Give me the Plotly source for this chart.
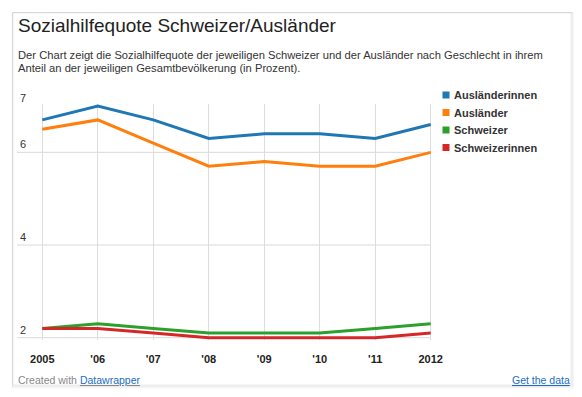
import plotly.graph_objects as go

# ---------------- data ----------------
years = [2005, 2006, 2007, 2008, 2009, 2010, 2011, 2012]
year_labels = ["2005", "'06", "'07", "'08", "'09", "'10", "'11", "2012"]

auslaenderinnen = [6.7, 7.0, 6.7, 6.3, 6.4, 6.4, 6.3, 6.6]
auslaender = [6.5, 6.7, 6.2, 5.7, 5.8, 5.7, 5.7, 6.0]
schweizer = [2.2, 2.3, 2.2, 2.1, 2.1, 2.1, 2.2, 2.3]
schweizerinnen = [2.2, 2.2, 2.1, 2.0, 2.0, 2.0, 2.0, 2.1]

series_names = ["Ausländerinnen", "Ausländer", "Schweizer", "Schweizerinnen"]
series_values = [auslaenderinnen, auslaender, schweizer, schweizerinnen]
series_colors = ["#1f77b4", "#ff7f0e", "#2ca02c", "#d62728"]

y_ticks = [2, 4, 6, 7]
grid_values = [2, 4, 6]

title_text = "Sozialhilfequote Schweizer/Ausländer"
subtitle_lines = [
    "Der Chart zeigt die Sozialhilfequote der jeweiligen Schweizer und der Ausländer nach Geschlecht in ihrem",
    "Anteil an der jeweiligen Gesamtbevölkerung (in Prozent).",
]

# ---------------- layout geometry ----------------
# The page body has an 8px margin, so the figure is drawn 8px smaller and
# all positions below are given in page pixels and shifted by OFF.
OFF = 8
W, H = 582 - 2 * OFF, 397 - 2 * OFF
PLOT_L, PLOT_R, PLOT_T, PLOT_B = 17, 432, 104, 340   # page pixels
ML, MR = PLOT_L - OFF, W - (PLOT_R - OFF)
MT, MB = PLOT_T - OFF, H - (PLOT_B - OFF)
PW, PH = W - ML - MR, H - MT - MB
FONT = "Liberation Sans, Arial, Helvetica, sans-serif"


def xp(px):
    return (px - PLOT_L) / PW


def yp(py):
    return (PLOT_B - py) / PH


fig = go.Figure()
for name, vals, col in zip(series_names, series_values, series_colors):
    fig.add_trace(go.Scatter(
        x=years, y=vals, name=name, mode="lines",
        line=dict(color=col, width=3),
        showlegend=False, hoverinfo="x+y+name",
    ))

shapes = []
# card with soft shadow
for off, alpha in [(3.0, 0.035), (2.0, 0.05), (1.0, 0.07)]:
    shapes.append(dict(type="rect", xref="paper", yref="paper", layer="below",
                       x0=xp(13 - off * 0.3), x1=xp(571 + off), y0=yp(13 - off * 0.2), y1=yp(385 + off),
                       line=dict(color=f"rgba(0,0,0,{alpha})", width=1), fillcolor="rgba(0,0,0,0)"))
shapes.append(dict(type="rect", xref="paper", yref="paper", layer="below",
                   x0=xp(13), x1=xp(571), y0=yp(13), y1=yp(385),
                   line=dict(color="rgba(0,0,0,0.07)", width=1), fillcolor="white"))
# horizontal grid lines
for g in grid_values:
    shapes.append(dict(type="line", xref="paper", yref="y", layer="below",
                       x0=0, x1=xp(431), y0=g, y1=g,
                       line=dict(color="#d9d9d9", width=1)))
# legend squares
leg_y0, leg_dy = 95, 17.5
for i, col in enumerate(series_colors):
    cy = leg_y0 + i * leg_dy
    shapes.append(dict(type="rect", xref="paper", yref="paper",
                       x0=xp(442.5), x1=xp(449.5), y0=yp(cy - 3.5), y1=yp(cy + 3.5),
                       line=dict(width=0), fillcolor=col))

annotations = []
annotations.append(dict(text=title_text, xref="paper", yref="paper", x=xp(16), y=yp(25.5),
                        xanchor="left", yanchor="middle", showarrow=False,
                        font=dict(family=FONT, size=19, color="#222222")))
for i, line in enumerate(subtitle_lines):
    annotations.append(dict(text=line, xref="paper", yref="paper", x=xp(16), y=yp(54.5 + i * 13.5),
                            xanchor="left", yanchor="middle", showarrow=False,
                            font=dict(family=FONT, size=11.2, color="#333333")))
for i, name in enumerate(series_names):
    cy = leg_y0 + i * leg_dy
    annotations.append(dict(text=name, xref="paper", yref="paper", x=xp(452), y=yp(cy),
                            xanchor="left", yanchor="middle", showarrow=False,
                            font=dict(family=FONT, size=11, color="#333333", weight="bold")))
annotations.append(dict(text="Created with <u><span style='color:#1a6dbf'>Datawrapper</span></u>",
                        xref="paper", yref="paper", x=xp(16), y=yp(380),
                        xanchor="left", yanchor="middle", showarrow=False,
                        font=dict(family=FONT, size=10.5, color="#888888")))
annotations.append(dict(text="<u>Get the data</u>",
                        xref="paper", yref="paper", x=xp(572), y=yp(380),
                        xanchor="right", yanchor="middle", showarrow=False,
                        font=dict(family=FONT, size=10.5, color="#1a6dbf")))

x_scale = (430.7 - 42.3) / 7
x0 = 2005 - (42.3 - PLOT_L) / x_scale
x1 = x0 + PW / x_scale
y_scale = (337.7 - 106) / 5
y1 = 7 + (106 - PLOT_T) / y_scale
y0 = y1 - PH / y_scale

fig.update_layout(
    width=W, height=H, autosize=False,
    margin=dict(l=ML, r=MR, t=MT, b=MB, pad=0),
    paper_bgcolor="white", plot_bgcolor="rgba(0,0,0,0)",
    showlegend=False,
    shapes=shapes, annotations=annotations,
    font=dict(family=FONT, size=11, color="#333333"),
    xaxis=dict(range=[x0, x1], tickvals=years, ticktext=year_labels,
               showgrid=True, gridcolor="#dddddd", gridwidth=1,
               zeroline=False, showline=False, ticks="",
               ticklabelstandoff=11,
               tickfont=dict(family=FONT, size=11, color="#222222", weight="bold")),
    yaxis=dict(range=[y0, y1], tickvals=y_ticks, ticktext=[str(v) for v in y_ticks],
               showgrid=False, zeroline=False, showline=False, ticks="",
               ticklabelposition="inside top", ticklabeloverflow="allow",
               tickfont=dict(family=FONT, size=11, color="#333333")),
)

fig.write_html("out.html")
